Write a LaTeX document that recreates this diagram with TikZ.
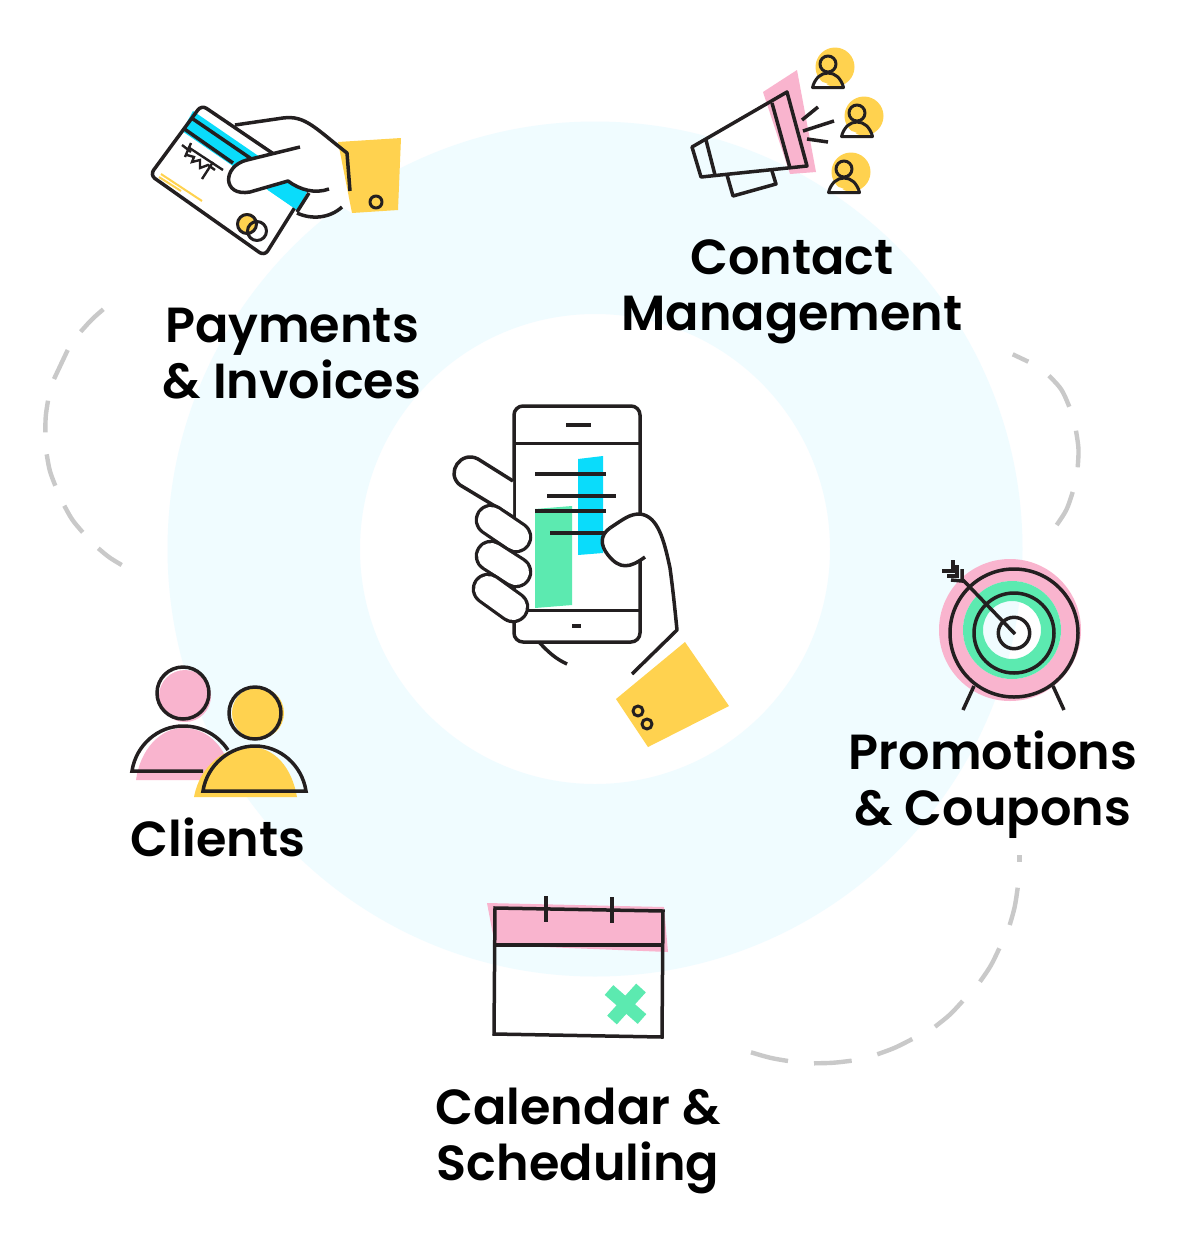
\documentclass[tikz,border=0pt]{standalone}
\usepackage{fontspec}
\newfontfamily\labfont[UprightFont={* SemiBold}]{Poppins}
\usetikzlibrary{calc}
\definecolor{inkc}{HTML}{231F20}
\definecolor{ringc}{HTML}{F0FCFF}
\definecolor{yelc}{HTML}{FFD24F}
\definecolor{pinkc}{HTML}{F9B4CE}
\definecolor{cyanc}{HTML}{0ADCFB}
\definecolor{greenc}{HTML}{5CEAB0}
\definecolor{dashc}{HTML}{C9C9C9}
\tikzset{
  ink/.style={draw=inkc,line width=3.5pt,line join=round},
  inkt/.style={draw=inkc,line width=3pt,line join=round},
  dashline/.style={draw=dashc,line width=4.4pt},
  lab/.style={font=\labfont\fontsize{49.3}{56}\selectfont,text=black,align=center,inner sep=0pt},
}
\newcommand{\fingerat}[4]{%
  \draw[inkc,line width=32.5pt,line cap=round] (#1,#2)--(#3,#4);
  \draw[white,line width=26pt,line cap=round] (#1,#2)--(#3,#4);}
\newcommand{\personat}[2]{%
  \fill[yelc] (#1+7,#2+3) circle (19.5);
  \begin{scope}[shift={(#1,#2)}]
  \fill[white] (-15,23) .. controls (-13,17) and (-5,17) .. (0,20) .. controls (-2,21) and (-8,23) .. (-8,23) -- cycle;
  \draw[inkt] (0,0) circle (8);
  \draw[inkt] (-15.5,23.5) .. controls (-13,14) and (-7,9) .. (0,9) .. controls (7,9) and (13,14) .. (15.5,23.5) -- cycle;
  \end{scope}}
\begin{document}
\begin{tikzpicture}[x=1pt,y=-1pt]
\useasboundingbox (0,0) rectangle (1184,1243);
\fill[white] (0,0) rectangle (1184,1243);
% ring
\fill[ringc,even odd rule] (595,549) circle (427.5) (595,549) circle (235);
% dashed arcs
\draw[dashline] (103.3,309.3) .. controls (92,319) .. (80.7,331.7);
\draw[dashline] (67.7,350) .. controls (60,364) .. (54,379);
\draw[dashline] (48,400.7) .. controls (45.5,416) .. (45.3,432.3);
\draw[dashline] (46.7,454.3) .. controls (49.5,471) .. (55.3,485.7);
\draw[dashline] (64.3,505.7) .. controls (72,520) .. (82.7,532.3);
\draw[dashline] (98.3,548.3) .. controls (109,557.5) .. (121.7,565);
\draw[dashline] (1012.7,354.3) -- (1028.3,361.7);
\draw[dashline] (1049,375.7) .. controls (1062,389) .. (1069.3,406.7);
\draw[dashline] (1076,430.7) .. controls (1079,449) .. (1077.7,467.3);
\draw[dashline] (1072.7,492) .. controls (1067,510) .. (1056.7,525);
\draw[dashline] (1019.3,855) -- (1019.3,861.7);
\draw[dashline] (1017.7,887.7) .. controls (1015,907) .. (1009.7,925);
\draw[dashline] (999.3,948.3) .. controls (991,966) .. (980,981.7);
\draw[dashline] (962.7,1001) .. controls (950,1015) .. (935,1026.7);
\draw[dashline] (912.3,1039) .. controls (895,1048) .. (877.3,1054.3);
\draw[dashline] (851.7,1060.7) .. controls (833,1063) .. (814,1063.3);
\draw[dashline] (788,1061) .. controls (770,1058) .. (751,1052.3);

% --- payments
\fill[white,rounded corners=5pt] (201,105) -- (312,180) -- (265,256) -- (150,176) -- cycle;
\fill[cyanc] (193,111) -- (308,190) -- (297,210) -- (182,131) -- cycle;
\draw[ink,rounded corners=6pt] (201.5,105) -- (312,180) -- (264.5,256) -- (150,175) -- cycle;
\draw[ink] (183,128) -- (233,163);
\draw[ink] (193,119) -- (253,160);
\draw[draw=yelc,line width=2pt] (161,174) -- (202,201);
\draw[draw=yelc,line width=2pt] (159,177) -- (181,191);
\fill[yelc] (247,223) circle (10);
\draw[inkt] (247,224) circle (9.5) (257,231) circle (9.5);
\draw[inkc,line width=2.4pt] (188,147) -- (223,170);
\draw[inkc,line width=2.4pt] (182,145) -- (191,152);
\draw[inkc,line width=2.4pt] (191,143) -- (185,157);
\draw[inkc,line width=2.4pt] (187,155) -- (194,157) -- (192,162) -- (200,160) -- (200,168) -- (208,165) -- (215,170);
\draw[inkc,line width=2.4pt] (213,162) -- (202,179);
\fill[white] (235,125) -- (287,117) .. controls (305,117) and (318,130) .. (347,153) -- (352,213) -- (342,207) .. controls (325,222) and (308,222) .. (297,213) -- (308,193) -- (288,181) -- (250,192) .. controls (222,192) and (222,162) .. (247,160) -- (275,152) -- cycle;
\fill[cyanc] (288,182) -- (308,190) -- (297,210) -- (268,190) -- cycle;
\draw[ink] (309,193) -- (297,212);
\fill[yelc] (338,142) -- (401,138) -- (398,210) -- (352,213) -- cycle;
\draw[ink,line cap=butt] (235,125) -- (283,118) .. controls (305,115) and (315,128) .. (347,153) -- (350,191);
\draw[ink] (300,147) -- (247,160) .. controls (222,166) and (222,197) .. (250,192) -- (288,181) .. controls (300,190) and (315,194) .. (329,189);
\draw[ink] (297,213) .. controls (312,220) and (330,218) .. (342,207);
\draw[inkt] (376,202) circle (6);

% --- contact
\fill[pinkc] (763,92) -- (797,70) -- (816,172) -- (790,174) -- cycle;
\draw[ink] (692,147) -- (787,92) -- (807,166) -- (701,177) -- cycle;
\draw[ink] (706,140) -- (715,175);
\draw[ink] (772,103) -- (790,168);
\draw[ink] (727,175) -- (733,196) -- (776,184) -- (772,171);
\draw[ink] (802,120) -- (818,107);
\draw[ink] (803,131) -- (834,121);
\draw[ink] (807,139) -- (828,142);
\personat{828}{64}
\personat{857}{113}
\personat{844}{169}

% --- phone
\fill[cyanc] (578,459) -- (603,456) -- (603,553) -- (578,555) -- cycle;
\fill[greenc] (535,509) -- (572,506) -- (572,605) -- (535,608) -- cycle;
\draw[ink,rounded corners=9pt] (514,406) rectangle (640,642);
\draw[ink] (514,443.5) -- (640,443.5);
\draw[ink] (514,610.5) -- (640,610.5);
\draw[ink] (566,425) -- (591,425);
\draw[ink] (572,626) -- (581,626);
\draw[ink] (535,474) -- (606,474);
\draw[ink] (547,496) -- (616,496);
\draw[ink] (535,511) -- (606,511);
\draw[ink] (550,533) -- (616,533);
% pointer finger
\fill[white] (513,481) -- (478,458) .. controls (458,450) and (445,475) .. (462,485) -- (513,517) -- cycle;
\draw[ink] (513,481) -- (478,459) .. controls (461,450) and (445,473) .. (460,485) -- (513,517);
\fingerat{491}{520}{516}{537}
\fingerat{491}{556}{516}{572}
\fingerat{488}{589}{513}{607}
% thumb
\fill[white] (610,528) .. controls (625,518) and (630,514) .. (640,514) .. controls (658,516) and (664,540) .. (670,568) -- (645,558) .. controls (630,568) and (620,570) .. (608,555) .. controls (600,545) and (600,535) .. (610,528);
\draw[ink] (610,528) .. controls (625,518) and (630,514) .. (640,514) .. controls (658,516) and (664,540) .. (670,568) .. controls (673,590) and (675,610) .. (677,630) -- (632,674);
\draw[ink] (610,528) .. controls (600,535) and (600,545) .. (608,555) .. controls (620,570) and (630,568) .. (645,557);
\draw[ink] (539,642) .. controls (548,652) and (556,659) .. (567,664);
\fill[yelc] (685,642) -- (729,706) -- (648,747) -- (616,699) -- cycle;
\draw[inkt] (638,711) circle (5) (647,724) circle (5);

% --- target
\fill[pinkc,even odd rule] (1010,630) circle (71) (1012,630) circle (49);
\fill[greenc,even odd rule] (1012,630) circle (49) (1012,630) circle (29);
\draw[ink] (1014,633) circle (64) (1014,633) circle (40) (1014,633) circle (15.7);
\draw[ink] (1015,634) -- (963,580);
\draw[ink,line join=miter] (953,560) -- (953,571) -- (942,571);
\draw[ink,line join=miter] (957,565) -- (957,576) -- (947,576);
\draw[ink,line join=miter] (962,569) -- (962,581) -- (951,580);
\draw[ink] (974,686) -- (963,710);
\draw[ink] (1053,686) -- (1064,710);

% --- clients
\fill[pinkc] (185,696) circle (26);
\fill[pinkc] (136,780) .. controls (140,750) and (160,728) .. (183,728) .. controls (210,728) and (228,750) .. (233,780) -- cycle;
\draw[ink] (183,693) circle (26);
\draw[ink,line join=miter] (203,771) -- (132,771) .. controls (136,745) and (158,726) .. (183,726) .. controls (205,726) and (220,738) .. (228,750);
\fill[yelc] (258,713) circle (26);
\fill[yelc] (194,797) .. controls (200,765) and (225,747) .. (250,747) .. controls (275,747) and (292,768) .. (297,797) -- cycle;
\draw[ink] (255,713) circle (26);
\draw[ink,line join=miter] (203,791) .. controls (207,765) and (230,746) .. (255,746) .. controls (280,746) and (302,765) .. (306,791) -- cycle;

% --- calendar
\fill[pinkc] (487,903) -- (664,907) -- (668,952) -- (495,945) -- cycle;
\draw[ink,line join=miter] (495,908) -- (663,911) -- (662,1037) -- (494,1034) -- cycle;
\draw[ink] (495,945) -- (663,945);
\draw[ink] (546,896) -- (546,922);
\draw[ink] (612,897) -- (612,923);
\draw[greenc,line width=13pt] (609,990) -- (642,1019);
\draw[greenc,line width=13pt] (641,988) -- (612,1020);

% --- labels
\node[lab] (pay) at (292,354) {Payments\\\& Invoices};
\node[lab] (con) at (792,292) {Contact\\Management};
\node[lab] (pro) at (993,785) {Promotions\\\& Coupons};
\node[lab] (cli) at (218,837) {Clients};
\node[lab] (cal) at (578,1141) {Calendar \&\\Scheduling};
\end{tikzpicture}
\end{document}
